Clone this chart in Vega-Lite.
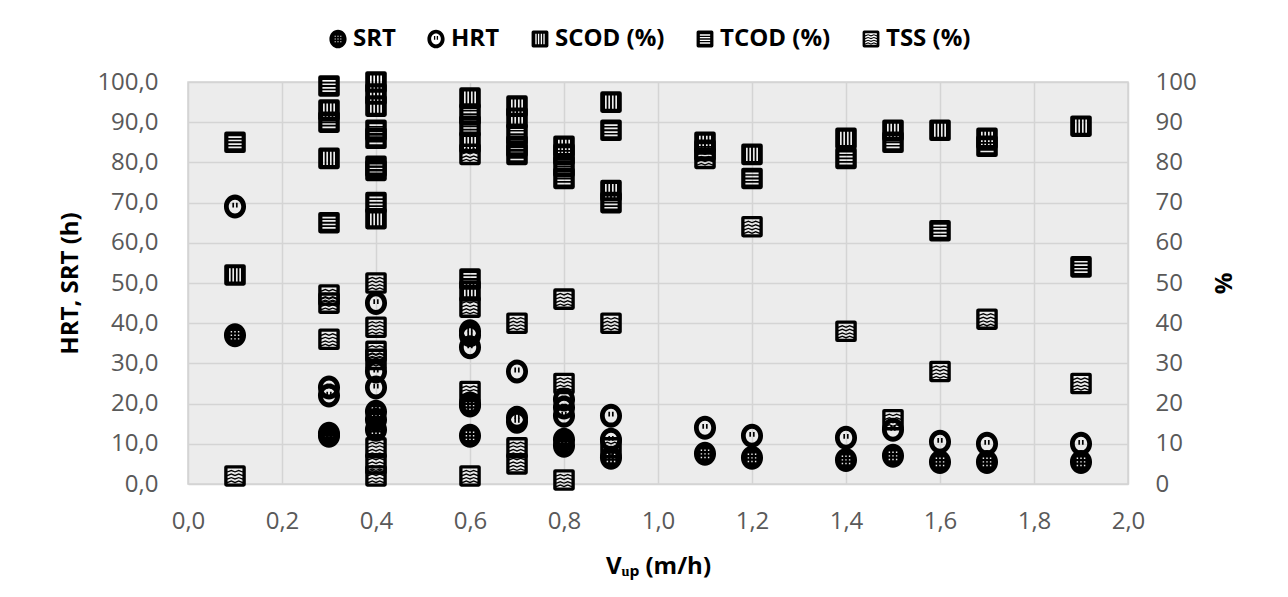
{
  "$schema": "https://vega.github.io/schema/vega-lite/v6.json",
  "autosize": "none",
  "width": 940,
  "height": 402,
  "padding": {"left": 188, "top": 82, "right": 160, "bottom": 113},
  "background": "white",
  "config": {
    "view": {"fill": "#ececec", "stroke": "#d4d4d4", "strokeWidth": 1.5},
    "axis": {
      "labelFont": "Open Sans", "labelFontSize": 24, "labelColor": "#595959",
      "titleFont": "Open Sans", "titleFontSize": 24, "titleFontWeight": "bold", "titleColor": "black",
      "ticks": false, "domain": false, "gridColor": "#d4d4d4", "gridWidth": 1.5, "labelOverlap": false
    },
    "legend": {"padding": 0}
  },
  "data": {
    "values": [
      {"x": 0.1, "series": "SRT", "v": 37},
      {"x": 0.3, "series": "SRT", "v": 12.5},
      {"x": 0.3, "series": "SRT", "v": 12},
      {"x": 0.4, "series": "SRT", "v": 18},
      {"x": 0.4, "series": "SRT", "v": 16},
      {"x": 0.4, "series": "SRT", "v": 13.5},
      {"x": 0.6, "series": "SRT", "v": 19.5},
      {"x": 0.6, "series": "SRT", "v": 12},
      {"x": 0.8, "series": "SRT", "v": 11},
      {"x": 0.8, "series": "SRT", "v": 9.5},
      {"x": 0.9, "series": "SRT", "v": 6.5},
      {"x": 1.1, "series": "SRT", "v": 7.5},
      {"x": 1.2, "series": "SRT", "v": 6.5},
      {"x": 1.4, "series": "SRT", "v": 6},
      {"x": 1.5, "series": "SRT", "v": 7},
      {"x": 1.6, "series": "SRT", "v": 5.5},
      {"x": 1.7, "series": "SRT", "v": 5.5},
      {"x": 1.9, "series": "SRT", "v": 5.5},
      {"x": 0.1, "series": "HRT", "v": 69},
      {"x": 0.3, "series": "HRT", "v": 24},
      {"x": 0.3, "series": "HRT", "v": 22},
      {"x": 0.4, "series": "HRT", "v": 45},
      {"x": 0.4, "series": "HRT", "v": 28},
      {"x": 0.4, "series": "HRT", "v": 24},
      {"x": 0.6, "series": "HRT", "v": 38},
      {"x": 0.6, "series": "HRT", "v": 37},
      {"x": 0.6, "series": "HRT", "v": 34},
      {"x": 0.6, "series": "HRT", "v": 20},
      {"x": 0.7, "series": "HRT", "v": 28},
      {"x": 0.7, "series": "HRT", "v": 16.5},
      {"x": 0.7, "series": "HRT", "v": 15.5},
      {"x": 0.8, "series": "HRT", "v": 21},
      {"x": 0.8, "series": "HRT", "v": 19},
      {"x": 0.8, "series": "HRT", "v": 17},
      {"x": 0.9, "series": "HRT", "v": 17},
      {"x": 0.9, "series": "HRT", "v": 11},
      {"x": 1.1, "series": "HRT", "v": 14},
      {"x": 1.2, "series": "HRT", "v": 12},
      {"x": 1.4, "series": "HRT", "v": 11.5},
      {"x": 1.5, "series": "HRT", "v": 13.5},
      {"x": 1.6, "series": "HRT", "v": 10.5},
      {"x": 1.7, "series": "HRT", "v": 10},
      {"x": 1.9, "series": "HRT", "v": 10},
      {"x": 0.1, "series": "SCOD (%)", "v": 52},
      {"x": 0.3, "series": "SCOD (%)", "v": 93},
      {"x": 0.3, "series": "SCOD (%)", "v": 81},
      {"x": 0.4, "series": "SCOD (%)", "v": 100},
      {"x": 0.4, "series": "SCOD (%)", "v": 97},
      {"x": 0.4, "series": "SCOD (%)", "v": 94},
      {"x": 0.4, "series": "SCOD (%)", "v": 66},
      {"x": 0.6, "series": "SCOD (%)", "v": 96},
      {"x": 0.6, "series": "SCOD (%)", "v": 85},
      {"x": 0.6, "series": "SCOD (%)", "v": 48},
      {"x": 0.7, "series": "SCOD (%)", "v": 94},
      {"x": 0.7, "series": "SCOD (%)", "v": 91},
      {"x": 0.8, "series": "SCOD (%)", "v": 84},
      {"x": 0.9, "series": "SCOD (%)", "v": 95},
      {"x": 0.9, "series": "SCOD (%)", "v": 73},
      {"x": 1.1, "series": "SCOD (%)", "v": 85},
      {"x": 1.2, "series": "SCOD (%)", "v": 82},
      {"x": 1.4, "series": "SCOD (%)", "v": 86},
      {"x": 1.5, "series": "SCOD (%)", "v": 88},
      {"x": 1.6, "series": "SCOD (%)", "v": 88},
      {"x": 1.7, "series": "SCOD (%)", "v": 86},
      {"x": 1.9, "series": "SCOD (%)", "v": 89},
      {"x": 0.1, "series": "TCOD (%)", "v": 85},
      {"x": 0.3, "series": "TCOD (%)", "v": 99},
      {"x": 0.3, "series": "TCOD (%)", "v": 90},
      {"x": 0.3, "series": "TCOD (%)", "v": 65},
      {"x": 0.4, "series": "TCOD (%)", "v": 88},
      {"x": 0.4, "series": "TCOD (%)", "v": 86},
      {"x": 0.4, "series": "TCOD (%)", "v": 79},
      {"x": 0.4, "series": "TCOD (%)", "v": 78},
      {"x": 0.4, "series": "TCOD (%)", "v": 70},
      {"x": 0.6, "series": "TCOD (%)", "v": 92},
      {"x": 0.6, "series": "TCOD (%)", "v": 89},
      {"x": 0.6, "series": "TCOD (%)", "v": 51},
      {"x": 0.7, "series": "TCOD (%)", "v": 87},
      {"x": 0.7, "series": "TCOD (%)", "v": 84},
      {"x": 0.7, "series": "TCOD (%)", "v": 82},
      {"x": 0.8, "series": "TCOD (%)", "v": 82},
      {"x": 0.8, "series": "TCOD (%)", "v": 79},
      {"x": 0.8, "series": "TCOD (%)", "v": 76},
      {"x": 0.9, "series": "TCOD (%)", "v": 88},
      {"x": 0.9, "series": "TCOD (%)", "v": 70},
      {"x": 1.1, "series": "TCOD (%)", "v": 83},
      {"x": 1.2, "series": "TCOD (%)", "v": 76},
      {"x": 1.4, "series": "TCOD (%)", "v": 81},
      {"x": 1.5, "series": "TCOD (%)", "v": 85},
      {"x": 1.6, "series": "TCOD (%)", "v": 63},
      {"x": 1.7, "series": "TCOD (%)", "v": 84},
      {"x": 1.9, "series": "TCOD (%)", "v": 54},
      {"x": 0.1, "series": "TSS (%)", "v": 2},
      {"x": 0.3, "series": "TSS (%)", "v": 47},
      {"x": 0.3, "series": "TSS (%)", "v": 45},
      {"x": 0.3, "series": "TSS (%)", "v": 36},
      {"x": 0.4, "series": "TSS (%)", "v": 50},
      {"x": 0.4, "series": "TSS (%)", "v": 39},
      {"x": 0.4, "series": "TSS (%)", "v": 33},
      {"x": 0.4, "series": "TSS (%)", "v": 31},
      {"x": 0.4, "series": "TSS (%)", "v": 9},
      {"x": 0.4, "series": "TSS (%)", "v": 5},
      {"x": 0.4, "series": "TSS (%)", "v": 2},
      {"x": 0.6, "series": "TSS (%)", "v": 82},
      {"x": 0.6, "series": "TSS (%)", "v": 44},
      {"x": 0.6, "series": "TSS (%)", "v": 23},
      {"x": 0.6, "series": "TSS (%)", "v": 2},
      {"x": 0.7, "series": "TSS (%)", "v": 40},
      {"x": 0.7, "series": "TSS (%)", "v": 9},
      {"x": 0.7, "series": "TSS (%)", "v": 5},
      {"x": 0.8, "series": "TSS (%)", "v": 46},
      {"x": 0.8, "series": "TSS (%)", "v": 25},
      {"x": 0.8, "series": "TSS (%)", "v": 1},
      {"x": 0.9, "series": "TSS (%)", "v": 40},
      {"x": 0.9, "series": "TSS (%)", "v": 9},
      {"x": 1.1, "series": "TSS (%)", "v": 81},
      {"x": 1.2, "series": "TSS (%)", "v": 64},
      {"x": 1.4, "series": "TSS (%)", "v": 38},
      {"x": 1.5, "series": "TSS (%)", "v": 16},
      {"x": 1.6, "series": "TSS (%)", "v": 28},
      {"x": 1.7, "series": "TSS (%)", "v": 41},
      {"x": 1.9, "series": "TSS (%)", "v": 25}
    ]
  },
  "encoding": {
    "x": {
      "field": "x", "type": "quantitative",
      "scale": {"domain": [0, 2], "nice": false},
      "axis": {
        "title": "Vᵤₚ (m/h)",
        "values": [0, 0.2, 0.4, 0.6, 0.8, 1.0, 1.2, 1.4, 1.6, 1.8, 2.0],
        "labelExpr": "replace(format(datum.value, '.1f'), '.', ',')",
        "grid": true, "labelFlush": false, "labelPadding": 25, "titlePadding": 21
      }
    },
    "shape": {
      "field": "series", "type": "nominal",
      "scale": {
        "domain": ["SRT", "HRT", "SCOD (%)", "TCOD (%)", "TSS (%)"],
        "range": [
          "M0,-1A0.92,1 0 1,1 0,1A0.92,1 0 1,1 0,-1Z M-0.36,-0.36V-0.24H-0.24V-0.36Z M-0.06,-0.36V-0.24H0.06V-0.36Z M0.24,-0.36V-0.24H0.36V-0.36Z M-0.36,-0.06V0.06H-0.24V-0.06Z M-0.06,-0.06V0.06H0.06V-0.06Z M0.24,-0.06V0.06H0.36V-0.06Z M-0.36,0.24V0.36H-0.24V0.24Z M-0.06,0.24V0.36H0.06V0.24Z M0.24,0.24V0.36H0.36V0.24Z",
          "M0,-1A0.92,1 0 1,1 0,1A0.92,1 0 1,1 0,-1Z M0,-0.58A0.52,0.58 0 1,0 0,0.58A0.52,0.58 0 1,0 0,-0.58Z M-0.22,-0.32H-0.08V0.08H-0.22Z M0.08,-0.32H0.22V0.08H0.08Z",
          "M-0.72,-0.9H0.72Q0.9,-0.9 0.9,-0.72V0.72Q0.9,0.9 0.72,0.9H-0.72Q-0.9,0.9 -0.9,0.72V-0.72Q-0.9,-0.9 -0.72,-0.9Z M-0.5,-0.55V0.55H-0.36V-0.55Z M-0.22,-0.55V0.55H-0.08V-0.55Z M0.08,-0.55V0.55H0.22V-0.55Z M0.36,-0.55V0.55H0.5V-0.55Z",
          "M-0.72,-0.9H0.72Q0.9,-0.9 0.9,-0.72V0.72Q0.9,0.9 0.72,0.9H-0.72Q-0.9,0.9 -0.9,0.72V-0.72Q-0.9,-0.9 -0.72,-0.9Z M-0.55,-0.5V-0.36H0.55V-0.5Z M-0.55,-0.22V-0.08H0.55V-0.22Z M-0.55,0.08V0.22H0.55V0.08Z M-0.55,0.36V0.5H0.55V0.36Z",
          "M-0.72,-0.9H0.72Q0.9,-0.9 0.9,-0.72V0.72Q0.9,0.9 0.72,0.9H-0.72Q-0.9,0.9 -0.9,0.72V-0.72Q-0.9,-0.9 -0.72,-0.9Z M-0.62,-0.62V0.62H0.62V-0.62Z M-0.62,-0.4L-0.31,-0.52L0,-0.4L0.31,-0.52L0.62,-0.4V-0.28L0.31,-0.4L0,-0.28L-0.31,-0.4L-0.62,-0.28Z M-0.62,-0.1L-0.31,-0.22L0,-0.1L0.31,-0.22L0.62,-0.1V0.02L0.31,-0.1L0,0.02L-0.31,-0.1L-0.62,0.02Z M-0.62,0.2L-0.31,0.08L0,0.2L0.31,0.08L0.62,0.2V0.32L0.31,0.2L0,0.32L-0.31,0.2L-0.62,0.32Z M-0.62,0.48L-0.31,0.36L0,0.48L0.31,0.36L0.62,0.48V0.6L0.31,0.48L0,0.6L-0.31,0.48L-0.62,0.6Z"
        ]
      },
      "legend": {
        "title": null, "orient": "none", "direction": "horizontal",
        "legendX": 138, "legendY": -55,
        "labelFont": "Open Sans", "labelFontSize": 24, "labelFontWeight": "bold", "labelColor": "black",
        "symbolSize": 350, "symbolFillColor": "black", "symbolStrokeWidth": 0, "symbolOpacity": 1,
        "columnPadding": 28, "labelOffset": 3
      }
    }
  },
  "layer": [
    {
      "transform": [{"filter": {"field": "series", "oneOf": ["SRT", "HRT"]}}],
      "mark": {"type": "point", "filled": true, "color": "black", "opacity": 1, "size": 576, "strokeWidth": 0},
      "encoding": {
        "y": {
          "field": "v", "type": "quantitative",
          "scale": {"domain": [0, 100], "nice": false},
          "axis": {
            "orient": "left", "title": "HRT, SRT (h)",
            "values": [0, 10, 20, 30, 40, 50, 60, 70, 80, 90, 100],
            "labelExpr": "replace(format(datum.value, '.1f'), '.', ',')",
            "grid": true, "labelPadding": 30, "titlePadding": 14
          }
        }
      }
    },
    {
      "transform": [{"filter": {"field": "series", "oneOf": ["SCOD (%)", "TCOD (%)", "TSS (%)"]}}],
      "mark": {"type": "point", "filled": true, "color": "black", "opacity": 1, "size": 576, "strokeWidth": 0},
      "encoding": {
        "y": {
          "field": "v", "type": "quantitative",
          "scale": {"domain": [0, 100], "nice": false},
          "axis": {
            "orient": "right", "title": "%",
            "values": [0, 10, 20, 30, 40, 50, 60, 70, 80, 90, 100],
            "grid": false, "labelPadding": 27, "titlePadding": 40, "titleAngle": -90
          }
        }
      }
    }
  ],
  "resolve": {"scale": {"y": "independent"}}
}
